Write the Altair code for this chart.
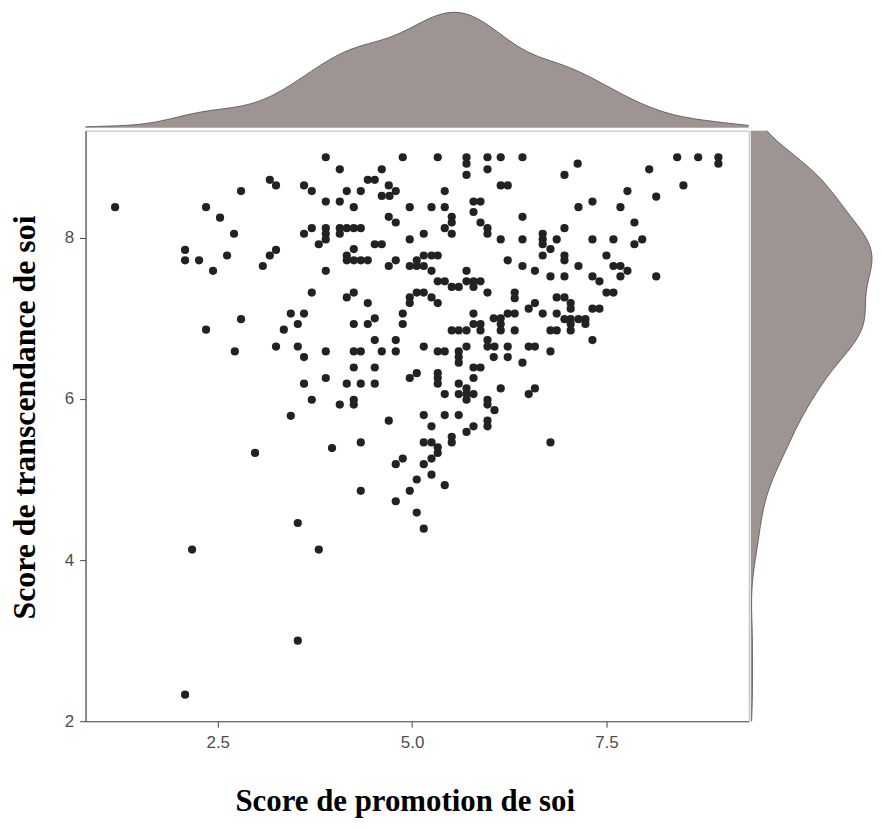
import altair as alt
import pandas as pd
import numpy as np

# Score de promotion de soi (x) and Score de transcendance de soi (y)
promotion = [
    1.18, 2.35, 2.53, 2.71, 2.80, 3.17, 3.25, 3.61, 3.71, 2.08,
    2.08, 2.26, 2.44, 2.62, 3.17, 3.25, 3.08, 3.61, 3.71, 3.80,
    3.71, 3.44, 3.61, 3.53, 2.80, 2.35, 3.35, 3.89, 4.07, 4.61,
    4.88, 5.33, 5.70, 5.70, 5.70, 5.97, 5.97, 6.14, 6.42, 4.43,
    4.52, 4.70, 4.79, 4.16, 4.34, 4.61, 4.71, 6.14, 6.23, 5.42,
    3.89, 4.07, 4.25, 4.97, 5.25, 5.42, 5.79, 5.88, 5.79, 4.70,
    4.79, 5.51, 5.51, 5.42, 5.51, 5.88, 5.97, 5.97, 6.42, 3.89,
    3.89, 3.89, 4.07, 4.07, 4.16, 4.25, 4.34, 4.97, 5.15, 6.14,
    6.42, 4.52, 4.61, 4.25, 4.16, 4.16, 4.25, 4.34, 4.43, 4.79,
    4.70, 5.15, 5.25, 5.33, 5.06, 4.97, 5.06, 5.15, 5.25, 3.89,
    5.70, 6.23, 6.42, 6.58, 5.33, 5.42, 5.51, 5.60, 5.70, 5.79,
    5.88, 5.79, 5.97, 6.32, 6.32, 4.25, 4.16, 4.97, 5.06, 5.15,
    5.25, 5.33, 4.97, 4.43, 6.50, 6.58, 4.88, 4.88, 5.79, 6.23,
    6.32, 6.14, 6.05, 4.25, 4.43, 4.52, 5.51, 5.60, 5.70, 5.79,
    5.88, 5.88, 6.14, 6.14, 6.32, 7.13, 6.96, 8.41, 8.68, 8.94,
    8.94, 8.05, 8.49, 7.77, 8.14, 7.14, 7.32, 7.68, 7.86, 6.96,
    6.68, 6.68, 6.68, 6.86, 6.78, 6.68, 7.32, 7.59, 7.86, 7.96,
    6.96, 6.96, 7.14, 7.50, 7.59, 7.68, 7.77, 7.68, 6.78, 6.96,
    7.32, 7.41, 8.14, 7.50, 7.59, 6.86, 6.96, 7.04, 7.04, 6.68,
    6.86, 6.96, 7.04, 7.14, 7.23, 7.23, 7.04, 7.32, 7.41, 6.78,
    6.86, 7.04, 2.72, 3.25, 3.53, 3.61, 3.61, 3.71, 3.44, 2.98,
    3.53, 4.52, 4.79, 3.89, 4.25, 4.34, 4.61, 4.79, 5.15, 5.33,
    5.42, 5.60, 5.60, 5.60, 5.70, 5.97, 6.06, 5.97, 6.05, 6.23,
    6.23, 6.42, 6.50, 6.58, 4.25, 4.52, 3.89, 4.16, 4.34, 4.52,
    4.97, 5.06, 5.33, 5.33, 5.33, 5.79, 5.88, 5.79, 5.60, 5.70,
    5.42, 5.60, 5.70, 5.79, 5.70, 6.14, 6.50, 6.58, 4.07, 4.25,
    4.25, 5.97, 5.97, 6.06, 5.15, 5.42, 5.60, 4.70, 5.25, 5.97,
    5.97, 5.79, 5.70, 5.51, 5.51, 5.15, 5.25, 5.33, 5.33, 3.97,
    4.34, 5.25, 5.15, 4.88, 4.79, 5.25, 5.06, 5.42, 4.97, 4.34,
    4.79, 5.06, 5.15, 7.32, 6.78, 6.78, 2.17, 3.80, 3.53, 2.08,
]
transcendance = [
    8.38, 8.38, 8.25, 8.05, 8.58, 8.72, 8.65, 8.65, 8.58, 7.85,
    7.72, 7.72, 7.59, 7.78, 7.78, 7.85, 7.65, 8.05, 8.12, 7.92,
    7.32, 7.06, 7.06, 6.93, 6.99, 6.86, 6.86, 9.00, 8.85, 8.85,
    9.00, 9.00, 9.00, 8.92, 8.78, 9.00, 8.85, 9.00, 9.00, 8.72,
    8.72, 8.65, 8.58, 8.58, 8.58, 8.52, 8.52, 8.65, 8.65, 8.58,
    8.45, 8.45, 8.38, 8.38, 8.38, 8.38, 8.45, 8.45, 8.32, 8.26,
    8.19, 8.26, 8.19, 8.12, 8.05, 8.19, 8.12, 8.05, 8.26, 8.12,
    8.05, 7.98, 8.12, 8.05, 8.12, 8.12, 8.12, 7.98, 8.05, 7.98,
    7.98, 7.92, 7.92, 7.86, 7.78, 7.72, 7.72, 7.72, 7.72, 7.72,
    7.65, 7.78, 7.78, 7.78, 7.72, 7.65, 7.65, 7.65, 7.59, 7.59,
    7.59, 7.72, 7.65, 7.59, 7.46, 7.46, 7.39, 7.39, 7.46, 7.46,
    7.46, 7.39, 7.32, 7.32, 7.25, 7.32, 7.26, 7.26, 7.32, 7.32,
    7.26, 7.19, 7.19, 7.19, 7.12, 7.19, 7.06, 6.93, 7.06, 7.06,
    7.06, 7.00, 7.00, 6.93, 6.93, 7.00, 6.85, 6.85, 6.85, 6.93,
    6.93, 6.85, 6.93, 6.85, 6.85, 8.92, 8.78, 9.00, 9.00, 9.00,
    8.92, 8.85, 8.65, 8.58, 8.51, 8.38, 8.45, 8.38, 8.19, 8.12,
    8.05, 7.98, 7.92, 7.98, 7.86, 7.78, 7.98, 7.98, 7.92, 7.98,
    7.78, 7.72, 7.65, 7.78, 7.65, 7.65, 7.59, 7.52, 7.52, 7.52,
    7.52, 7.46, 7.52, 7.32, 7.32, 7.26, 7.26, 7.19, 7.12, 7.06,
    7.06, 6.99, 6.99, 6.99, 6.99, 6.93, 6.93, 7.12, 7.12, 6.85,
    6.85, 6.85, 6.59, 6.65, 6.65, 6.52, 6.19, 5.99, 5.79, 5.33,
    4.46, 6.73, 6.73, 6.59, 6.59, 6.59, 6.59, 6.59, 6.65, 6.59,
    6.59, 6.59, 6.52, 6.45, 6.65, 6.73, 6.65, 6.65, 6.52, 6.65,
    6.52, 6.45, 6.65, 6.65, 6.39, 6.39, 6.26, 6.19, 6.19, 6.19,
    6.26, 6.32, 6.32, 6.26, 6.19, 6.39, 6.39, 6.26, 6.19, 6.13,
    6.06, 6.06, 6.06, 6.06, 5.99, 6.13, 6.06, 6.13, 5.93, 5.99,
    5.93, 5.99, 5.93, 5.86, 5.80, 5.80, 5.80, 5.73, 5.66, 5.73,
    5.66, 5.66, 5.59, 5.53, 5.46, 5.46, 5.46, 5.40, 5.33, 5.39,
    5.46, 5.26, 5.19, 5.26, 5.19, 5.06, 5.00, 4.93, 4.86, 4.86,
    4.73, 4.59, 4.39, 6.73, 6.59, 5.46, 4.13, 4.13, 3.00, 2.33,
]

x_ticks = [2.5, 5.0, 7.5]
y_ticks = [2, 4, 6, 8]
x_domain = [0.8, 9.33]
y_domain = [2.0, 9.33]

x_title = "Score de promotion de soi"
y_title = "Score de transcendance de soi"

df = pd.DataFrame({"promotion": promotion, "transcendance": transcendance})


def nrd0(v):
    v = np.asarray(v, dtype=float)
    sd = v.std(ddof=1)
    q75, q25 = np.percentile(v, [75, 25])
    return 0.9 * min(sd, (q75 - q25) / 1.34) * len(v) ** -0.2


bw_x = float(nrd0(promotion))
bw_y = float(nrd0(transcendance))

FILL = "#9e9592"
LINE = "#4a4a4a"
PW, PH = 667, 594
TOP_H, RIGHT_W = 116, 122

xscale = alt.Scale(domain=x_domain, nice=False, zero=False)
yscale = alt.Scale(domain=y_domain, nice=False, zero=False)

scatter = alt.Chart(df).mark_circle(size=68, color="#222222", opacity=1).encode(
    x=alt.X("promotion:Q", scale=xscale,
            axis=alt.Axis(values=x_ticks, format=".1f", title=x_title, grid=False,
                          labelPadding=7, titlePadding=37, titleFontSize=31, titleX=321)),
    y=alt.Y("transcendance:Q", scale=yscale,
            axis=alt.Axis(values=y_ticks, format="d", title=y_title, grid=False,
                          labelPadding=6, titlePadding=23, titleFontSize=32, titleY=288)),
).properties(width=PW, height=PH, view=alt.ViewBackground(stroke="#b5b5b5", strokeWidth=1))

top_base = alt.Chart(df).transform_density(
    "promotion", as_=["promotion", "density"], extent=x_domain, bandwidth=bw_x, steps=300
).encode(
    x=alt.X("promotion:Q", scale=xscale, axis=None),
    y=alt.Y("density:Q", scale=alt.Scale(zero=True, nice=False), axis=None),
)
top = alt.layer(
    top_base.mark_area(color=FILL),
    top_base.mark_line(color=LINE, strokeWidth=0.8),
).properties(width=PW, height=TOP_H)

right_base = alt.Chart(df).transform_density(
    "transcendance", as_=["transcendance", "density"], extent=y_domain, bandwidth=bw_y, steps=300
)
right = alt.layer(
    right_base.mark_area(color=FILL, orient="horizontal").encode(
        y=alt.Y("transcendance:Q", scale=yscale, axis=None),
        x=alt.X("density:Q", scale=alt.Scale(zero=True, nice=False), axis=None),
    ),
    right_base.mark_line(color=LINE, strokeWidth=0.8).encode(
        y=alt.Y("transcendance:Q", scale=yscale, axis=None),
        x=alt.X("density:Q", scale=alt.Scale(zero=True, nice=False), axis=None),
        order=alt.Order("transcendance:Q"),
    ),
).properties(width=RIGHT_W, height=PH)

bottom_row = alt.hconcat(scatter, right, spacing=0).resolve_scale(x="independent", y="independent")
chart = alt.vconcat(top, bottom_row, spacing=0).resolve_scale(
    x="independent", y="independent"
).properties(padding=0, background="white").configure_view(
    stroke=None
).configure_axis(
    labelFont="Liberation Sans", labelFontSize=17, labelColor="#4d4d4d",
    tickColor="#444444", tickSize=6, domainColor="#555555", domainWidth=1.2,
    titleFont="Liberation Serif", titleFontWeight="bold", titleColor="#000000",
)

chart.save("out.html", embed_options={"renderer": "svg", "actions": False})
